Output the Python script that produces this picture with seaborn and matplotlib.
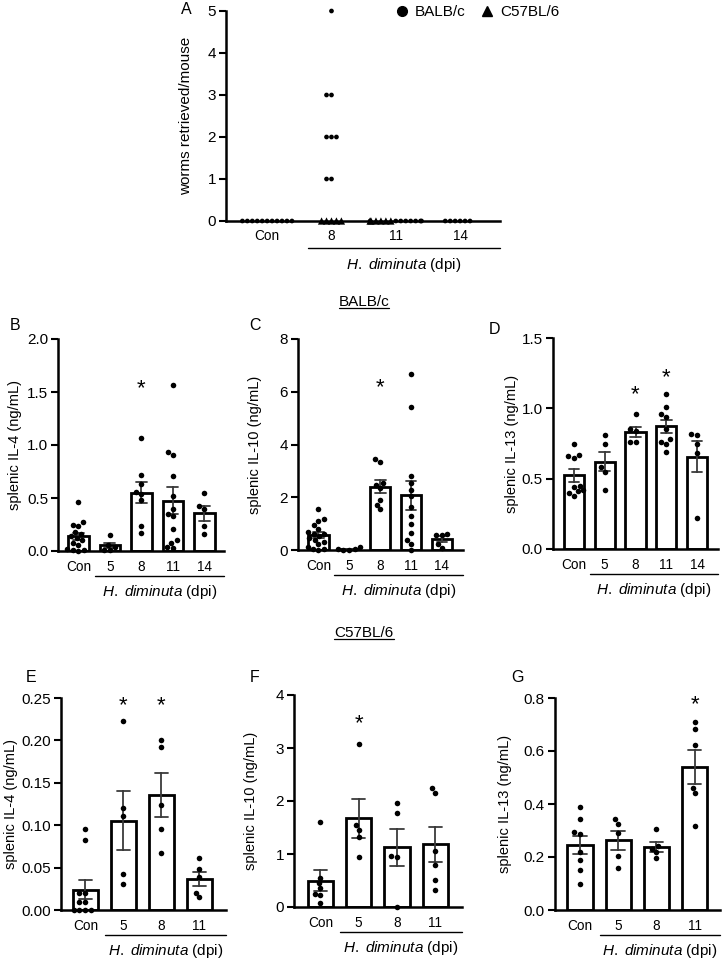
import warnings
warnings.filterwarnings('ignore')
import numpy as np
import pandas as pd
import matplotlib
matplotlib.use('Agg')
import matplotlib.pyplot as plt
import matplotlib.transforms as mtransforms
from matplotlib.lines import Line2D
from matplotlib.markers import MarkerStyle
import seaborn as sns

# ---------------- data ----------------
# Panel A: worms retrieved per mouse
worm_groups = ['Con', '8', '11', '14']
worm_con_balb = [0, 0, 0, 0, 0, 0, 0, 0, 0, 0, 0]
worm_d8_balb = [5, 3, 3, 2, 2, 2, 1, 1]
worm_d8_c57 = [0, 0, 0, 0, 0]
worm_d11_balb = [0, 0, 0, 0, 0, 0, 0, 0]
worm_d11_c57 = [0, 0, 0, 0, 0, 0]
worm_d14_balb = [0, 0, 0, 0, 0, 0]
strains = ['BALB/c', 'C57BL/6']

balb_groups = ['Con', '5', '8', '11', '14']
c57_groups = ['Con', '5', '8', '11']

# Panel B: splenic IL-4, BALB/c (ng/mL)
il4_balb = [
    [0.46, 0.27, 0.25, 0.24, 0.18, 0.16, 0.14, 0.12, 0.10, 0.08, 0.06, 0.02, 0.01, 0.01, 0.00],
    [0.15, 0.06, 0.04, 0.01, 0.01],
    [1.07, 0.72, 0.63, 0.56, 0.54, 0.48, 0.24, 0.17],
    [1.57, 0.93, 0.91, 0.71, 0.52, 0.40, 0.35, 0.33, 0.21, 0.10, 0.08, 0.04, 0.03],
    [0.55, 0.42, 0.40, 0.24, 0.16],
]
# Panel C: splenic IL-10, BALB/c
il10_balb = [
    [1.54, 1.16, 1.10, 0.95, 0.80, 0.68, 0.62, 0.60, 0.52, 0.45, 0.38, 0.30, 0.22, 0.13, 0.05, 0.02, 0.00],
    [0.10, 0.05, 0.02, 0.01, 0.00],
    [3.44, 3.32, 2.53, 2.47, 2.34, 1.90, 1.71, 1.54],
    [6.67, 5.44, 2.82, 2.53, 2.28, 2.03, 1.62, 1.29, 0.99, 0.63, 0.38, 0.23, 0.00],
    [0.62, 0.58, 0.55, 0.22, 0.08],
]
# Panel D: splenic IL-13, BALB/c
il13_balb = [
    [0.75, 0.67, 0.66, 0.65, 0.45, 0.44, 0.42, 0.41, 0.40, 0.38],
    [0.81, 0.75, 0.58, 0.55, 0.42],
    [0.96, 0.85, 0.84, 0.76, 0.76],
    [1.10, 1.01, 0.96, 0.94, 0.85, 0.78, 0.76, 0.75, 0.69],
    [0.82, 0.81, 0.75, 0.68, 0.22],
]
# Panel E: splenic IL-4, C57BL/6
il4_c57 = [
    [0.096, 0.083, 0.020, 0.020, 0.010, 0.010, 0.000, 0.000, 0.000, 0.000],
    [0.223, 0.120, 0.111, 0.042, 0.031],
    [0.200, 0.192, 0.124, 0.096, 0.067],
    [0.061, 0.048, 0.039, 0.020, 0.015],
]
# Panel F: splenic IL-10, C57BL/6
il10_c57 = [
    [1.60, 0.55, 0.45, 0.35, 0.25, 0.22, 0.08],
    [3.07, 1.55, 1.46, 1.32, 0.95],
    [1.96, 1.77, 0.97, 0.94, 0.00],
    [2.24, 2.15, 1.05, 0.80, 0.51, 0.33],
]
# Panel G: splenic IL-13, C57BL/6
il13_c57 = [
    [0.387, 0.343, 0.293, 0.288, 0.220, 0.190, 0.150, 0.100],
    [0.343, 0.325, 0.290, 0.205, 0.157],
    [0.304, 0.240, 0.232, 0.220, 0.195],
    [0.710, 0.682, 0.622, 0.462, 0.442, 0.318],
]

# significance marks: (group, y position)
stars_B = [('8', 1.60)]
stars_C = [('8', 6.45)]
stars_D = [('8', 1.15), ('11', 1.27)]
stars_E = [('5', 0.25), ('8', 0.25)]
stars_F = [('5', 3.60)]
stars_G = [('11', 0.804)]

# ---------------- style ----------------
sns.set_theme(style='ticks')
plt.rcParams['font.family'] = ['Liberation Sans', 'DejaVu Sans']
plt.rcParams.update({
    'mathtext.fontset': 'custom',
    'mathtext.rm': 'Liberation Sans',
    'mathtext.it': 'Liberation Sans:italic',
    'mathtext.bf': 'Liberation Sans:bold',
    'text.color': 'black', 'axes.labelcolor': 'black',
    'xtick.color': 'black', 'ytick.color': 'black', 'axes.edgecolor': 'black',
})

W, H = 726, 960
fig = plt.figure(figsize=(W / 100, H / 100), dpi=100)
fig.patch.set_facecolor('white')

def fy(y):
    return 1 - y / H

def add_ax(l, t, r, b):
    ax = fig.add_axes([l / W, 1 - b / H, (r - l) / W, (b - t) / H])
    ax.set_facecolor('none')
    return ax

def style_axes(ax, xlim, ylim, yticks, ylabels):
    sns.despine(ax=ax)
    ax.set_xlim(*xlim)
    ax.set_ylim(*ylim)
    ax.set_yticks(yticks)
    ax.set_yticklabels(ylabels)
    ax.set_xlabel('')
    ax.set_ylabel('')
    ax.tick_params(axis='x', length=0, pad=6.5, labelsize=9.8, colors='black')
    ax.tick_params(axis='y', length=5, width=1.5, pad=2.2, labelsize=11, colors='black')
    for s in ('left', 'bottom'):
        ax.spines[s].set_linewidth(1.8)
        ax.spines[s].set_color('black')

def group_label(ax, x0, xr, b, dy_line, dy_text):
    tr = mtransforms.blended_transform_factory(ax.transData, fig.transFigure)
    ax.add_line(Line2D([x0, xr], [fy(b + dy_line)] * 2, transform=tr,
                       color='black', lw=1.0, clip_on=False))
    ax.text((x0 + xr) / 2, fy(b + dy_text), r'$\mathit{H.\ diminuta}$ (dpi)',
            transform=tr, ha='center', va='center', fontsize=11)

def long_df(groups, values):
    g, v = [], []
    for name, vals in zip(groups, values):
        g += [name] * len(vals)
        v += list(vals)
    return pd.DataFrame({'group': g, 'value': v})

def add_stars(ax, groups, stars, fs=16):
    for grp, yv in stars:
        ax.annotate('*', xy=(groups.index(grp), yv), xytext=(0, -0.58 * fs),
                    textcoords='offset points', ha='center', va='baseline',
                    fontsize=fs, annotation_clip=False)

def bar_panel(px, groups, values, xlim, ylim, yticks, ylabels, ylabel, ylabel_x,
              letter, letter_xy, stars):
    l, t, r, b = px
    ax = add_ax(l, t, r, b)
    df = long_df(groups, values)
    sns.barplot(data=df, x='group', y='value', order=groups, errorbar='se',
                capsize=0.35, width=0.66, color='white', saturation=1,
                edgecolor='black', linewidth=2.0,
                err_kws={'color': '#3a3a3a', 'linewidth': 1.3}, ax=ax)
    sns.swarmplot(data=df, x='group', y='value', order=groups, color='black',
                  size=4.0, ax=ax, clip_on=False, zorder=5)
    style_axes(ax, xlim, ylim, yticks, ylabels)
    add_stars(ax, groups, stars)
    group_label(ax, 0.52, xlim[1], b, 25, 41)
    fig.text(ylabel_x / W, fy((t + b) / 2), ylabel, rotation=90, ha='center',
             va='center', fontsize=10.5)
    fig.text(letter_xy[0] / W, fy(letter_xy[1]), letter, ha='center', va='center',
             fontsize=11.5)
    return ax

# ---------------- panel A ----------------
rows = []
for grp, strain, vals in [('Con', 'BALB/c', worm_con_balb),
                          ('8', 'BALB/c', worm_d8_balb),
                          ('8', 'C57BL/6', worm_d8_c57)]:
    rows += [(grp, strain, v) for v in vals]
# interleave strains at 11 dpi
for i in range(max(len(worm_d11_balb), len(worm_d11_c57))):
    if i < len(worm_d11_balb):
        rows.append(('11', 'BALB/c', worm_d11_balb[i]))
    if i < len(worm_d11_c57):
        rows.append(('11', 'C57BL/6', worm_d11_c57[i]))
rows += [('14', 'BALB/c', v) for v in worm_d14_balb]
df_a = pd.DataFrame(rows, columns=['group', 'strain', 'worms'])

axA = add_ax(226, 11, 500, 221)
sns.swarmplot(data=df_a, x='group', y='worms', order=worm_groups, hue='strain',
              hue_order=strains, palette={'BALB/c': '#000000', 'C57BL/6': '#030303'},
              size=3.4, legend=False, ax=axA, clip_on=False, zorder=5)

def marker_path(m, scale=1.0):
    ms = MarkerStyle(m)
    return ms.get_path().transformed(ms.get_transform() + mtransforms.Affine2D().scale(scale))

circ = marker_path('o')
tri = marker_path('^', 1.55)
for coll in axA.collections:
    fc = coll.get_facecolors()
    n = len(coll.get_offsets())
    if n and len(fc) == n:
        coll.set_paths([tri if fc[i, 0] > 0.005 else circ for i in range(n)])
        coll.set_facecolors('black')

style_axes(axA, (-0.64, 3.62), (0, 5), [0, 1, 2, 3, 4, 5], ['0', '1', '2', '3', '4', '5'])
axA.tick_params(axis='x', pad=5.5)
group_label(axA, 0.64, 3.62, 221, 27, 44)
fig.text(186 / W, fy(116), 'worms retrieved/mouse', rotation=90, ha='center',
         va='center', fontsize=11)
fig.text(186 / W, fy(9), 'A', ha='center', va='center', fontsize=11.5)
handles = [Line2D([], [], marker='o', ls='', color='black', markersize=7, label=strains[0]),
           Line2D([], [], marker='^', ls='', color='black', markersize=7, label=strains[1])]
fig.legend(handles=handles, loc='center left', bbox_to_anchor=(394 / W, fy(12)),
           ncol=2, frameon=False, fontsize=11, handlelength=1.0, handletextpad=0.35,
           columnspacing=0.9, borderpad=0, borderaxespad=0)

# ---------------- BALB/c panels ----------------
bar_panel((58, 339, 224, 551), balb_groups, il4_balb, (-0.65, 4.62), (0, 2.0),
          [0, 0.5, 1.0, 1.5, 2.0], ['0.0', '0.5', '1.0', '1.5', '2.0'],
          'splenic IL-4 (ng/mL)', 15, 'B', (15, 325), stars_B)
bar_panel((298, 339, 463, 550), balb_groups, il10_balb, (-0.66, 4.68), (0, 8),
          [0, 2, 4, 6, 8], ['0', '2', '4', '6', '8'],
          'splenic IL-10 (ng/mL)', 255, 'C', (255, 325), stars_C)
bar_panel((553, 338, 718, 549), balb_groups, il13_balb, (-0.68, 4.68), (0, 1.5),
          [0, 0.5, 1.0, 1.5], ['0.0', '0.5', '1.0', '1.5'],
          'splenic IL-13 (ng/mL)', 512, 'D', (495, 330), stars_D)

# ---------------- C57BL/6 panels ----------------
bar_panel((61, 698, 226, 910), c57_groups, il4_c57, (-0.64, 3.70), (0, 0.25),
          [0, 0.05, 0.10, 0.15, 0.20, 0.25], ['0.00', '0.05', '0.10', '0.15', '0.20', '0.25'],
          'splenic IL-4 (ng/mL)', 11, 'E', (31, 678), stars_E)
bar_panel((294, 695, 462, 907), c57_groups, il10_c57, (-0.69, 3.70), (0, 4),
          [0, 1, 2, 3, 4], ['0', '1', '2', '3', '4'],
          'splenic IL-10 (ng/mL)', 251, 'F', (255, 677), stars_F)
bar_panel((555, 698, 720, 910), c57_groups, il13_c57, (-0.65, 3.66), (0, 0.8),
          [0, 0.2, 0.4, 0.6, 0.8], ['0.0', '0.2', '0.4', '0.6', '0.8'],
          'splenic IL-13 (ng/mL)', 505, 'G', (517, 677), stars_G)

# ---------------- strain headings (underlined) ----------------
fig.canvas.draw()
renderer = fig.canvas.get_renderer()
for label, y in [('BALB/c', 302), ('C57BL/6', 633)]:
    t = fig.text(364 / W, fy(y), label, ha='center', va='center', fontsize=11)
    bb = t.get_window_extent(renderer=renderer)
    yline = bb.y0 + 1.5
    fig.add_artist(Line2D([bb.x0 / W, bb.x1 / W], [yline / H, yline / H],
                          transform=fig.transFigure, color='black', lw=0.9))

fig.savefig('out.png', dpi=100, facecolor='white')
